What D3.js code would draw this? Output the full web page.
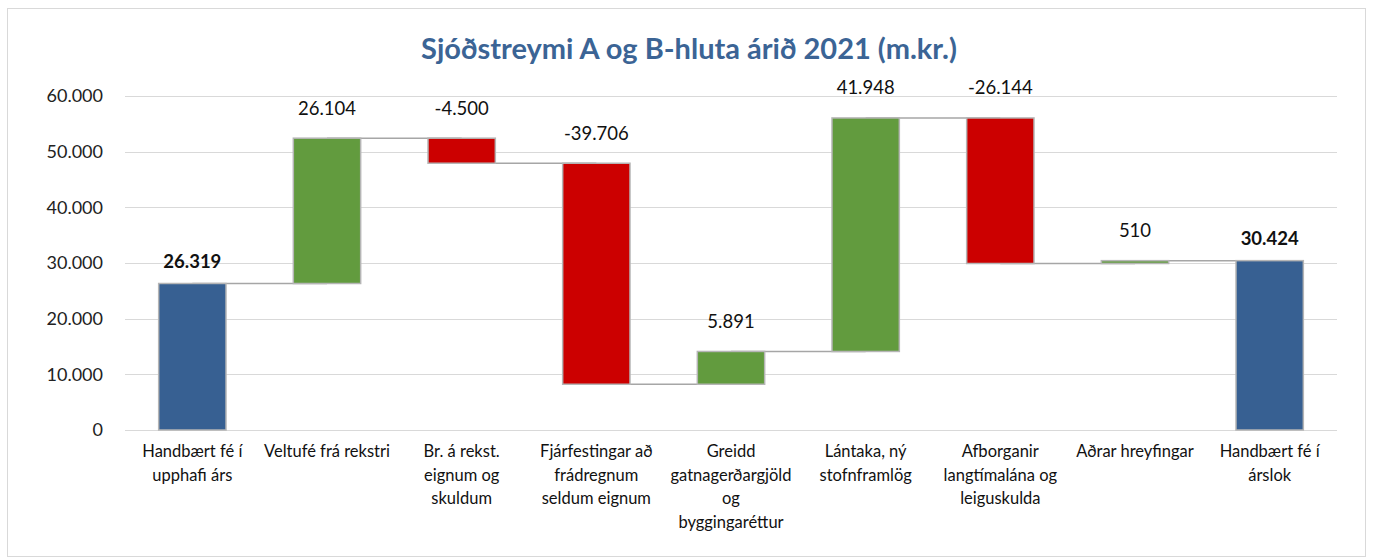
<!DOCTYPE html>
<html>
<head>
<meta charset="utf-8">
<script src="https://cdn.jsdelivr.net/npm/d3@7"></script>
<style>
  body { margin: 0; background: #fff; }
  svg text { font-family: Lato, "Open Sans", sans-serif; }
</style>
</head>
<body>
<div id="chart"></div>
<script>
// categories (already broken into lines as in the original)
var categories = [
  ["Handbært fé í", "upphafi árs"],
  ["Veltufé frá rekstri"],
  ["Br. á rekst.", "eignum og", "skuldum"],
  ["Fjárfestingar að", "frádregnum", "seldum eignum"],
  ["Greidd", "gatnagerðargjöld", "og", "byggingaréttur"],
  ["Lántaka, ný", "stofnframlög"],
  ["Afborganir", "langtímalána og", "leiguskulda"],
  ["Aðrar hreyfingar"],
  ["Handbært fé í", "árslok"]
];
var values = [26319, 26104, -4500, -39706, 5891, 41948, -26144, 510, 30424];
var isTotal = [true, false, false, false, false, false, false, false, true];
var yTicks = [0, 10000, 20000, 30000, 40000, 50000, 60000];

var W = 1373, H = 560;
var margin = {top: 96, right: 36, bottom: 130, left: 125};

var svg = d3.select("#chart").append("svg")
  .attr("width", W).attr("height", H);

// outer frame
svg.append("rect")
  .attr("x", 7.5).attr("y", 8.5).attr("width", W - 15).attr("height", H - 12)
  .attr("fill", "none").attr("stroke", "#d9d9d9");

svg.append("text")
  .attr("x", 689).attr("y", 59)
  .attr("text-anchor", "middle")
  .attr("font-size", 29).attr("font-weight", "bold")
  .attr("fill", "#3B6495")
  .text("Sjóðstreymi A og B-hluta árið 2021 (m.kr.)");

var x = d3.scaleBand()
  .domain(d3.range(categories.length))
  .range([margin.left, W - margin.right])
  .paddingInner(0.5).paddingOuter(0.25);

var y = d3.scaleLinear()
  .domain([0, 60000])
  .range([H - margin.bottom, margin.top]);

// running totals
var bars = [];
var run = 0;
values.forEach(function(v, i) {
  var start, end;
  if (isTotal[i]) { start = 0; end = v; run = v; }
  else { start = run; end = run + v; run = end; }
  bars.push({i: i, v: v, start: start, end: end, total: isTotal[i]});
});

// gridlines
svg.append("g").selectAll("line")
  .data(yTicks).enter().append("line")
  .attr("x1", margin.left).attr("x2", W - margin.right)
  .attr("y1", function(d) { return Math.round(y(d)) + 0.5; })
  .attr("y2", function(d) { return Math.round(y(d)) + 0.5; })
  .attr("stroke", "#d9d9d9").attr("stroke-width", 1.2);

// y axis labels
var fmt = function(d) { return d3.format(",")(d).replace(/,/g, "."); };
svg.append("g").selectAll("text")
  .data(yTicks).enter().append("text")
  .attr("x", 103).attr("y", function(d) { return y(d); })
  .attr("dy", "0.35em")
  .attr("text-anchor", "end")
  .attr("font-size", 18).attr("fill", "#222")
  .text(fmt);

// connectors
var bw = x.bandwidth();
svg.append("g").selectAll("line")
  .data(bars.slice(0, -1)).enter().append("line")
  .attr("x1", function(d) { return x(d.i) + bw / 2; })
  .attr("x2", function(d) { return x(d.i + 1) + bw / 2; })
  .attr("y1", function(d) { return y(d.end); })
  .attr("y2", function(d) { return y(d.end); })
  .attr("stroke", "#a6a6a6").attr("stroke-width", 1.5);

function colour(d) {
  if (d.total) return "#376092";
  return d.v >= 0 ? "#629B3E" : "#CC0000";
}

svg.append("g").selectAll("rect")
  .data(bars).enter().append("rect")
  .attr("x", function(d) { return x(d.i); })
  .attr("width", bw)
  .attr("y", function(d) { return y(Math.max(d.start, d.end)); })
  .attr("height", function(d) { return Math.max(1.5, Math.abs(y(d.start) - y(d.end))); })
  .attr("fill", colour)
  .attr("stroke", "#b5b5b5").attr("stroke-width", 1.5);

// value labels
svg.append("g").selectAll("text")
  .data(bars).enter().append("text")
  .attr("x", function(d) { return x(d.i) + bw / 2; })
  .attr("y", function(d) { return y(Math.max(d.start, d.end)) - (d.total ? 22 : 30); })
  .attr("dy", "0.35em")
  .attr("text-anchor", "middle")
  .attr("font-size", 18.5)
  .attr("font-weight", function(d) { return d.total ? "bold" : "normal"; })
  .attr("fill", "#111")
  .text(function(d) { return (d.v < 0 ? "-" : "") + fmt(Math.abs(d.v)); });

// category labels
var cat = svg.append("g").selectAll("text")
  .data(categories).enter().append("text")
  .attr("x", function(d, i) { return x(i) + bw / 2; })
  .attr("y", 457)
  .attr("text-anchor", "middle")
  .attr("font-size", 16.5).attr("fill", "#111");
cat.selectAll("tspan")
  .data(function(d) { return d; }).enter().append("tspan")
  .attr("x", function() { return d3.select(this.parentNode).attr("x"); })
  .attr("dy", function(d, j) { return j === 0 ? 0 : 23.5; })
  .text(function(d) { return d; });
</script>
</body>
</html>
